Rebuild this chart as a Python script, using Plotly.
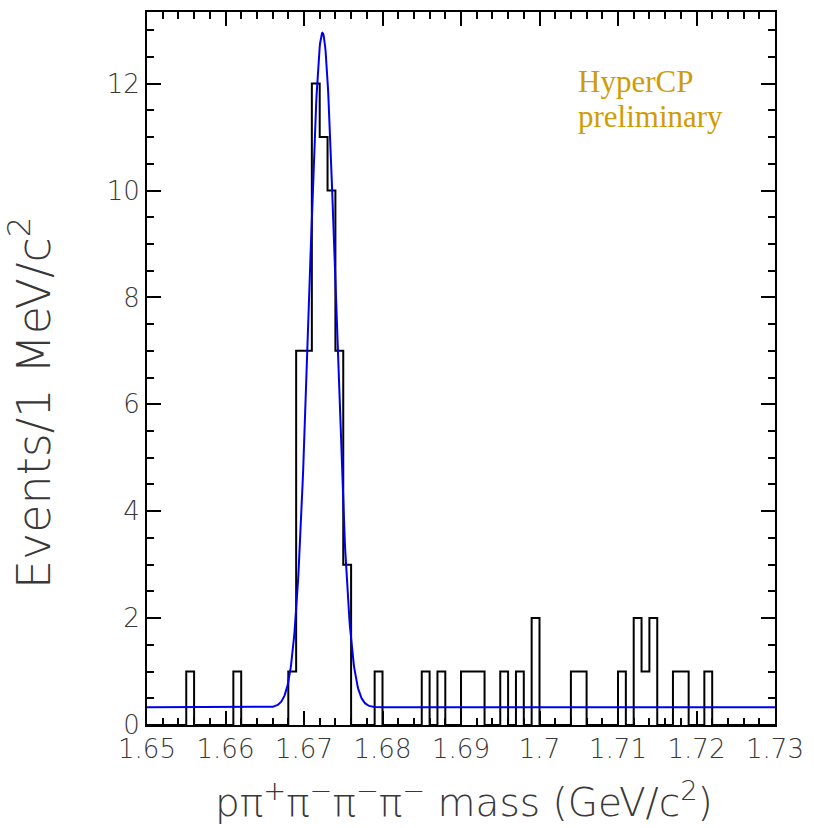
import numpy as np
import plotly.graph_objects as go

# ---- data ----
bin_start = 1.650          # GeV/c^2, first bin low edge
bin_width = 0.001          # 1 MeV/c^2 bins
counts = [
    0, 0, 0, 0, 0, 1, 0, 0, 0, 0,   # 1.650 - 1.659
    0, 1, 0, 0, 0, 0, 0, 0, 1, 7,   # 1.660 - 1.669
    7, 12, 11, 10, 7, 3, 0, 0, 0, 1,  # 1.670 - 1.679
    0, 0, 0, 0, 0, 1, 0, 1, 0, 0,   # 1.680 - 1.689
    1, 1, 1, 0, 0, 1, 0, 1, 0, 2,   # 1.690 - 1.699
    0, 0, 0, 0, 1, 1, 0, 0, 0, 0,   # 1.700 - 1.709
    1, 0, 2, 1, 2, 0, 0, 1, 1, 0,   # 1.710 - 1.719
    0, 1, 0, 0, 0, 0, 0, 0, 0, 0,   # 1.720 - 1.729
]
# Gaussian + flat background fit
fit_mean = 1.67235
fit_sigma = 0.00170
fit_amp = 12.62
fit_bkg = 0.33

x_tickvals = [1.65, 1.66, 1.67, 1.68, 1.69, 1.70, 1.71, 1.72, 1.73]
x_ticktext = ["1.65", "1.66", "1.67", "1.68", "1.69", "1.7", "1.71", "1.72", "1.73"]
y_tickvals = [0, 2, 4, 6, 8, 10, 12]
y_ticktext = ["0", "2", "4", "6", "8", "10", "12"]

# ---- build traces ----
n = len(counts)
edges = [bin_start + i * bin_width for i in range(n + 1)]
step_y = counts + [counts[-1]]

xf = np.linspace(1.65, 1.73, 1601)
yf = fit_bkg + fit_amp * np.exp(-0.5 * ((xf - fit_mean) / fit_sigma) ** 2)

fig = go.Figure()
fig.add_trace(go.Scatter(x=edges, y=step_y, mode="lines", line_shape="hv",
                         line=dict(color="black", width=2), hoverinfo="skip"))
fig.add_trace(go.Scatter(x=xf, y=yf, mode="lines",
                         line=dict(color="#0000EE", width=2), hoverinfo="skip"))

tick_font = dict(family="DejaVu Sans", size=26, color="#383838", weight=200)

W, H = 814, 828
ml, mr, mt, mb = 147, 38, 10, 103
pw, ph = W - ml - mr, H - mt - mb

def px_x(p):
    return (p - ml) / pw

def px_y(p):
    return 1 - (p - mt) / ph

fig.update_layout(
    width=W, height=H,
    margin=dict(l=ml, r=mr, t=mt, b=mb),
    paper_bgcolor="white", plot_bgcolor="white",
    showlegend=False,
    xaxis=dict(
        range=[1.65, 1.73], tickmode="array", tickvals=x_tickvals, ticktext=x_ticktext,
        ticks="inside", ticklen=14, tickwidth=2, tickcolor="black",
        showline=True, linecolor="black", linewidth=2, mirror="ticks",
        showgrid=False, zeroline=False, tickfont=tick_font,
        minor=dict(tick0=1.65, dtick=0.002, ticks="inside", ticklen=7,
                   tickwidth=1.5, tickcolor="black", showgrid=False),
    ),
    yaxis=dict(
        range=[0, 13.34], tickmode="array", tickvals=y_tickvals, ticktext=y_ticktext,
        ticks="inside", ticklen=14, tickwidth=2, tickcolor="black",
        showline=True, linecolor="black", linewidth=2, mirror="ticks",
        showgrid=False, zeroline=False, tickfont=tick_font,
        minor=dict(tick0=0, dtick=0.5, ticks="inside", ticklen=7,
                   tickwidth=1.5, tickcolor="black", showgrid=False),
    ),
)

title_font_x = dict(family="DejaVu Sans", size=39, color="#383838", weight=200)
title_font_y = dict(family="DejaVu Sans", size=46, color="#383838", weight=200)

fig.add_annotation(
    text="p\u03c0<sup>+</sup>\u03c0<sup>\u2212</sup>\u03c0<sup>\u2212</sup>\u03c0<sup>\u2212</sup> mass (GeV/c<sup>2</sup>)",
    xref="paper", yref="paper", x=px_x(465), y=px_y(800),
    xanchor="center", yanchor="middle", showarrow=False, font=title_font_x)
fig.add_annotation(
    text="Events/1 MeV/c<sup>2</sup>",
    xref="paper", yref="paper", x=px_x(30), y=px_y(402), textangle=-90,
    xanchor="center", yanchor="middle", showarrow=False, font=title_font_y)

hc_font = dict(family="Liberation Serif", size=31, color="#D09C06")
fig.add_annotation(text="HyperCP", xref="paper", yref="paper",
                   x=px_x(577), y=px_y(80), xanchor="left", yanchor="middle",
                   showarrow=False, font=hc_font)
fig.add_annotation(text="preliminary", xref="paper", yref="paper",
                   x=px_x(577), y=px_y(115), xanchor="left", yanchor="middle",
                   showarrow=False, font=hc_font)

fig.write_html("out.html")
